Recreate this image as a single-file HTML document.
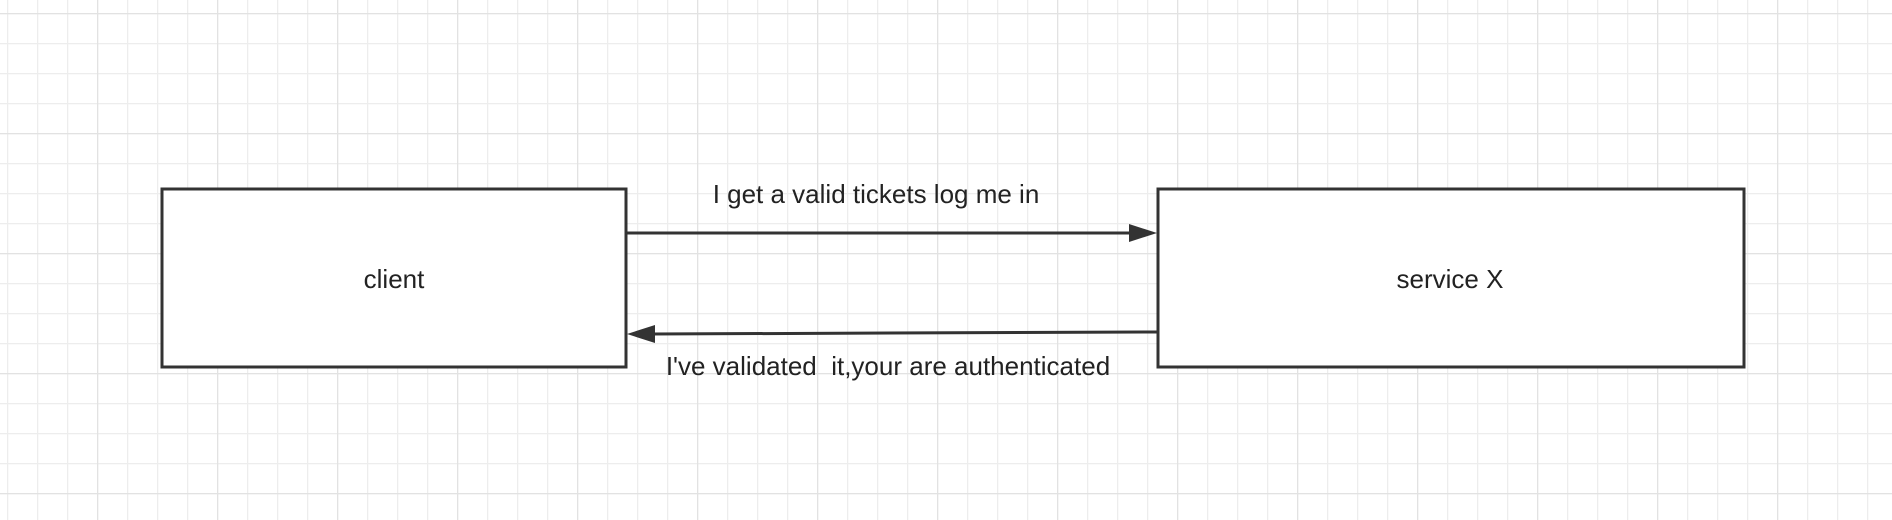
<!DOCTYPE html>
<html><head><meta charset="utf-8"><style>
html,body{margin:0;padding:0;background:#fff;}
svg{display:block;}
</style></head><body>
<svg width="1892" height="520" xmlns="http://www.w3.org/2000/svg">
<defs>
<pattern id="minor" x="7" y="13" width="30" height="30" patternUnits="userSpaceOnUse">
<path d="M0 0H30M0 0V30" stroke="#ededed" stroke-width="2.5" fill="none"/>
</pattern>
<pattern id="major" x="97" y="13" width="120" height="120" patternUnits="userSpaceOnUse">
<path d="M0 0H120M0 0V120" stroke="#e2e2e2" stroke-width="2.5" fill="none"/>
</pattern>
</defs>
<rect width="1892" height="520" fill="#fff"/>
<rect width="1892" height="520" fill="url(#minor)"/>
<rect width="1892" height="520" fill="url(#major)"/>
<rect x="162" y="189" width="464" height="178" fill="#fff" stroke="#333" stroke-width="3"/>
<rect x="1158" y="189" width="586" height="178" fill="#fff" stroke="#333" stroke-width="3"/>
<line x1="626" y1="233" x2="1130" y2="233" stroke="#333" stroke-width="3"/>
<polygon points="1157,233 1129,224 1129,242" fill="#333"/>
<line x1="1157" y1="332" x2="652" y2="334" stroke="#333" stroke-width="3"/>
<polygon points="627,334 655,325 655,343" fill="#333"/>
<g font-family="Liberation Sans, Arial, sans-serif" font-size="26" fill="#222" text-anchor="middle">
<text x="394" y="288">client</text>
<text x="1450" y="288">service X</text>
<text x="876" y="203">I get a valid tickets log me in</text>
<text x="888" y="375" xml:space="preserve">I've validated  it,your are authenticated</text>
</g>
</svg>
</body></html>
